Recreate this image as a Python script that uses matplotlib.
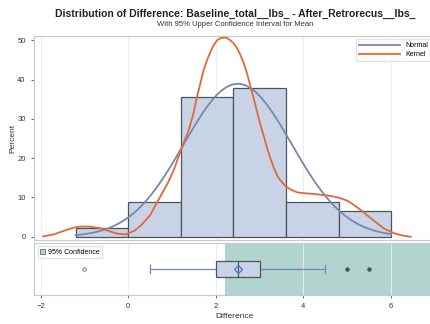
import numpy as np
import matplotlib.pyplot as plt
from matplotlib.patches import Patch

plt.rcParams['font.family'] = ['Liberation Sans', 'DejaVu Sans']

# histogram (percent per bin)
bin_edges = [-1.2, 0.0, 1.2, 2.4, 3.6, 4.8, 6.0]
bin_pct = [2.22, 8.89, 35.56, 37.78, 8.89, 6.67]

# fitted normal
mu, sigma = 2.5, 1.23

# kernel curve
kern_x = [-1.94, -1.7, -1.45, -1.25, -1.1, -0.9, -0.64, -0.45, -0.26, -0.05, 0.15, 0.3, 0.5, 0.73,
          0.9, 1.04, 1.23, 1.38, 1.48, 1.57, 1.72, 1.8, 1.88, 1.95, 2.03, 2.1, 2.18, 2.25, 2.33,
          2.4, 2.49, 2.56, 2.64, 2.72, 2.79, 2.87, 2.95, 3.02, 3.10, 3.17, 3.25, 3.33, 3.40,
          3.47, 3.59, 3.73, 3.86, 4.0, 4.24, 4.62, 4.82, 5.0, 5.15, 5.31, 5.54, 5.7, 5.84,
          6.07, 6.25, 6.45]
kern_y = [0.1, 0.6, 1.6, 2.3, 2.6, 2.6, 2.2, 1.5, 0.8, 0.6, 1.6, 3.0, 5.5, 10.2,
          13.6, 17.0, 22.9, 27.1, 31.0, 35.6, 42.4, 45.0, 47.1, 48.8, 50.0, 50.5, 50.7, 50.6, 50.0,
          49.3, 47.9, 46.3, 44.1, 41.3, 38.2, 35.0, 31.4, 28.4, 25.4, 22.6, 19.8, 17.4, 15.6,
          14.4, 12.9, 11.9, 11.3, 11.1, 10.9, 10.4, 9.9, 9.2, 8.1, 6.8, 4.7, 3.3, 2.1,
          0.9, 0.35, 0.0]

# box plot summary
q1, med, q3, mean = 2.0, 2.5, 3.0, 2.5
whisk_lo, whisk_hi = 0.5, 4.5
out_low = [-1.0]
out_high = [5.0, 5.5]
ci_low = 2.2

hist_fill = '#c8d3e5'
edge = '#4d545c'
blue = '#7489b0'
orange = '#e0693a'
teal = '#b1d4cf'

fig = plt.figure(figsize=(4.31, 3.24), dpi=100)
ax = fig.add_axes([0.079, 0.259, 0.93, 0.63])
bx = fig.add_axes([0.079, 0.09, 0.93, 0.16], sharex=ax)

widths = np.diff(bin_edges)
ax.bar(bin_edges[:-1], bin_pct, width=widths, align='edge', color=hist_fill,
       edgecolor=edge, linewidth=0.9, zorder=2)

xs = np.linspace(bin_edges[0], bin_edges[-1], 200)
ys = 100 * widths[0] * np.exp(-(xs - mu) ** 2 / (2 * sigma ** 2)) / (sigma * np.sqrt(2 * np.pi))
ax.plot(xs, ys, color=blue, lw=1.3, label='Normal', zorder=3)
ax.plot(kern_x, kern_y, color=orange, lw=1.3, label='Kernel', zorder=3)

ax.set_xlim(-2.15, 7.0)
ax.set_ylim(-0.84, 51.1)
ax.set_yticks([0, 10, 20, 30, 40, 50])
ax.set_ylabel('Percent', fontsize=6, color='#333333', labelpad=1)
ax.tick_params(axis='x', bottom=False, labelbottom=False)
ax.tick_params(axis='y', labelsize=5.5, length=2.5, width=0.6, colors='#555555', labelcolor='#333333')
ax.grid(axis='x', color='#ececec', lw=0.6, zorder=0)
ax.set_axisbelow(True)
for s in ax.spines.values():
    s.set_color('#c8c8c8')
leg = ax.legend(loc='upper right', fontsize=5, frameon=True, handlelength=6,
                borderpad=0.4, labelspacing=0.3, fancybox=False, edgecolor='#dddddd')

# box panel
bx.axvspan(ci_low, 10, color=teal, lw=0, zorder=1)
bx.grid(axis='x', color='#ececec', lw=0.6, zorder=0)
yc = 0.5
h = 0.3
bx.add_patch(plt.Rectangle((q1, yc - h / 2), q3 - q1, h, facecolor=hist_fill,
                           edgecolor=edge, lw=0.9, zorder=3))
bx.plot([med, med], [yc - h / 2, yc + h / 2], color=edge, lw=0.9, zorder=4)
bx.plot([whisk_lo, q1], [yc, yc], color=blue, lw=0.9, zorder=2)
bx.plot([q3, whisk_hi], [yc, yc], color=blue, lw=0.9, zorder=2)
for w in (whisk_lo, whisk_hi):
    bx.plot([w, w], [yc - 0.07, yc + 0.07], color=blue, lw=0.9, zorder=2)
bx.plot([mean], [yc], marker='D', ms=4, mfc='none', mec='#4d74c4', mew=0.9, zorder=5)
bx.plot(out_low, [yc] * len(out_low), 'o', ms=2.5, mfc='none', mec='#666666', mew=0.6, zorder=4)
bx.plot(out_high, [yc] * len(out_high), 'o', ms=2.5, mfc='#555555', mec='#444444', mew=0.6, zorder=4)
bx.set_ylim(0, 1)
bx.set_yticks([])
bx.set_xticks([-2, 0, 2, 4, 6])
bx.tick_params(axis='x', labelsize=5.5, length=2.5, width=0.6, colors='#555555', labelcolor='#333333')
bx.set_xlabel('Difference', fontsize=6, color='#333333', labelpad=2)
for s in bx.spines.values():
    s.set_color('#c8c8c8')
bx.legend(handles=[Patch(facecolor=teal, edgecolor='#666666', lw=0.6, label='95% Confidence')],
          loc='upper left', fontsize=5, frameon=True, fancybox=False, edgecolor='#dddddd',
          handlelength=0.8, handleheight=0.8, borderpad=0.3, handletextpad=0.4)

fig.text(0.545, 0.958, 'Distribution of Difference: Baseline_total__lbs_ - After_Retrorecus__lbs_',
         ha='center', va='center', fontsize=7.5, fontweight='bold', color='#222222')
fig.text(0.545, 0.925, 'With 95% Upper Confidence Interval for Mean',
         ha='center', va='center', fontsize=5.5, color='#333333')

fig.savefig('out.png', dpi=100)
